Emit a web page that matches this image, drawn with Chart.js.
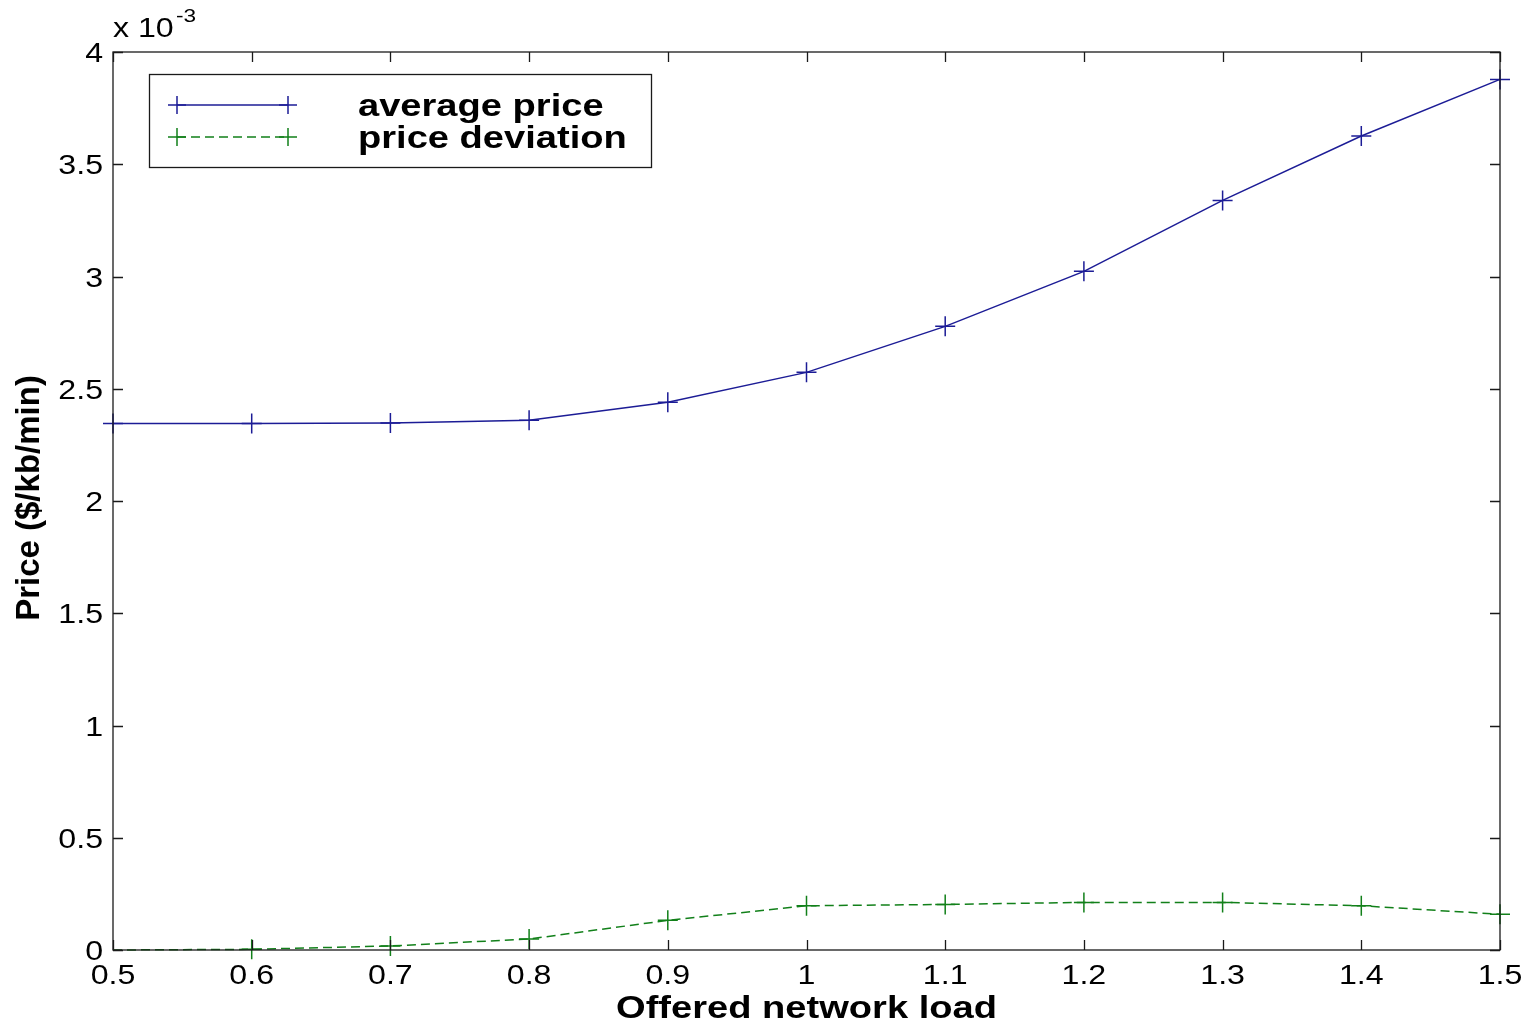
<!DOCTYPE html>
<html>
<head>
<meta charset="utf-8">
<title>Price vs offered network load</title>
<script src="https://cdn.jsdelivr.net/npm/chart.js@4/dist/chart.umd.min.js"></script>
<style>
  html, body { margin: 0; padding: 0; background: #ffffff; }
  canvas { display: block; }
</style>
</head>
<body>
<canvas id="chart" width="1533" height="1025"></canvas>
<script>
// Offered network load (x) and prices in units of 10^-3 $/kb/min
const loads = [0.5, 0.6, 0.7, 0.8, 0.9, 1.0, 1.1, 1.2, 1.3, 1.4, 1.5];
const avgPrice = [2.345, 2.345, 2.347, 2.36, 2.44, 2.573, 2.778, 3.023, 3.339, 3.626, 3.878];
const priceDev = [0, 0.003, 0.018, 0.049, 0.132, 0.197, 0.203, 0.212, 0.212, 0.197, 0.159];

const xTicks = [0.5, 0.6, 0.7, 0.8, 0.9, 1.0, 1.1, 1.2, 1.3, 1.4, 1.5];
const xTickLabels = ['0.5', '0.6', '0.7', '0.8', '0.9', '1', '1.1', '1.2', '1.3', '1.4', '1.5'];
const yTicks = [0, 0.5, 1, 1.5, 2, 2.5, 3, 3.5, 4];
const yTickLabels = ['0', '0.5', '1', '1.5', '2', '2.5', '3', '3.5', '4'];

const seriesNames = ['average price', 'price deviation'];
const xTitle = 'Offered network load';
const yTitle = 'Price ($/kb/min)';

const BLUE = '#1c1c96';
const GREEN = '#12801a';
const DEV_DASH = [9, 5];
const SX = 1.19; // horizontal stretch of the printed lettering

function toPoints(xs, ys) {
  return xs.map((x, i) => ({ x: x, y: ys[i] }));
}

// Text drawn with a horizontal stretch, like the printed figure's Helvetica
function stretchText(ctx, text, x, y, font, sx, align, baseline) {
  ctx.save();
  ctx.font = font;
  ctx.textBaseline = baseline || 'alphabetic';
  ctx.textAlign = 'left';
  const w = ctx.measureText(text).width * sx;
  const left = align === 'center' ? x - w / 2 : (align === 'right' ? x - w : x);
  ctx.translate(left, y);
  ctx.scale(sx, 1);
  ctx.fillText(text, 0, 0);
  ctx.restore();
}

function drawCross(ctx, x, y, r) {
  ctx.beginPath();
  ctx.moveTo(x - r, y); ctx.lineTo(x + r, y);
  ctx.moveTo(x, y - r); ctx.lineTo(x, y + r);
  ctx.stroke();
}

// Boxed axes with inward ticks, labels, titles, exponent and legend
const matlabAxes = {
  id: 'matlabAxes',
  afterDraw(chart) {
    const ctx = chart.ctx;
    const a = chart.chartArea;
    const xs = chart.scales.x, ys = chart.scales.y;
    const tickLen = 10;
    const tickFont = '27px "Liberation Sans", Arial, sans-serif';
    const boldFont = 'bold 32px "Liberation Sans", Arial, sans-serif';

    ctx.save();
    ctx.strokeStyle = '#1a1a1a';
    ctx.lineWidth = 1.3;
    ctx.strokeRect(a.left, a.top, a.right - a.left, a.bottom - a.top);

    ctx.beginPath();
    xTicks.forEach(v => {
      const px = Math.round(xs.getPixelForValue(v)) + 0.5;
      ctx.moveTo(px, a.bottom); ctx.lineTo(px, a.bottom - tickLen);
      ctx.moveTo(px, a.top); ctx.lineTo(px, a.top + tickLen);
    });
    yTicks.forEach(v => {
      const py = Math.round(ys.getPixelForValue(v)) + 0.5;
      ctx.moveTo(a.left, py); ctx.lineTo(a.left + tickLen, py);
      ctx.moveTo(a.right, py); ctx.lineTo(a.right - tickLen, py);
    });
    ctx.stroke();

    ctx.fillStyle = '#000000';
    xTicks.forEach((v, i) => {
      stretchText(ctx, xTickLabels[i], xs.getPixelForValue(v), a.bottom + 34, tickFont, SX, 'center');
    });
    yTicks.forEach((v, i) => {
      stretchText(ctx, yTickLabels[i], a.left - 10, ys.getPixelForValue(v) + 10, tickFont, SX, 'right');
    });

    // exponent above the y axis
    stretchText(ctx, 'x 10', a.left, a.top - 15, tickFont, SX, 'left');
    stretchText(ctx, '-3', a.left + 63, a.top - 30, '19px "Liberation Sans", Arial, sans-serif', SX, 'left');

    // axis titles
    stretchText(ctx, xTitle, (a.left + a.right) / 2, a.bottom + 68, boldFont, SX, 'center');
    ctx.save();
    ctx.translate(39, (a.top + a.bottom) / 2 - 3);
    ctx.rotate(-Math.PI / 2);
    stretchText(ctx, yTitle, 0, 0, 'bold 33px "Liberation Sans", Arial, sans-serif', 1.0, 'center');
    ctx.restore();

    // legend
    const lx = 149, ly = 74, lw = 502, lh = 93;
    ctx.fillStyle = '#ffffff';
    ctx.fillRect(lx, ly, lw, lh);
    ctx.strokeStyle = '#1a1a1a';
    ctx.lineWidth = 1.3;
    ctx.strokeRect(lx + 0.5, ly + 0.5, lw, lh);

    const rows = [
      { y: 105, color: BLUE, dash: [], name: seriesNames[0], textY: 116 },
      { y: 137, color: GREEN, dash: DEV_DASH, name: seriesNames[1], textY: 148 }
    ];
    rows.forEach(r => {
      ctx.strokeStyle = r.color;
      ctx.lineWidth = 1.5;
      ctx.setLineDash(r.dash);
      ctx.beginPath();
      ctx.moveTo(177, r.y); ctx.lineTo(288, r.y);
      ctx.stroke();
      ctx.setLineDash([]);
      drawCross(ctx, 177, r.y, 9);
      drawCross(ctx, 288, r.y, 9);
      ctx.fillStyle = '#000000';
      stretchText(ctx, r.name, 358, r.textY, boldFont, SX, 'left');
    });
    ctx.restore();
  }
};

new Chart(document.getElementById('chart'), {
  type: 'line',
  data: {
    datasets: [
      {
        label: seriesNames[0],
        data: toPoints(loads, avgPrice),
        borderColor: BLUE,
        backgroundColor: BLUE,
        borderWidth: 1.5,
        pointStyle: 'cross',
        pointRadius: 10,
        pointBorderWidth: 1.5,
        pointBorderColor: BLUE,
        tension: 0,
        clip: false,
        fill: false
      },
      {
        label: seriesNames[1],
        data: toPoints(loads, priceDev),
        borderColor: GREEN,
        backgroundColor: GREEN,
        borderWidth: 1.5,
        borderDash: DEV_DASH,
        pointStyle: 'cross',
        pointRadius: loads.map((v, i) => (i === 0 ? 0 : 10)),
        pointBorderWidth: 1.5,
        pointBorderColor: GREEN,
        tension: 0,
        clip: false,
        fill: false
      }
    ]
  },
  options: {
    responsive: false,
    animation: false,
    devicePixelRatio: 1,
    layout: { padding: { left: 113, right: 33, top: 52, bottom: 75 } },
    plugins: { legend: { display: false }, tooltip: { enabled: false } },
    scales: {
      x: { type: 'linear', min: 0.5, max: 1.5, display: false },
      y: { type: 'linear', min: 0, max: 4, display: false }
    }
  },
  plugins: [matlabAxes]
});
</script>
</body>
</html>
